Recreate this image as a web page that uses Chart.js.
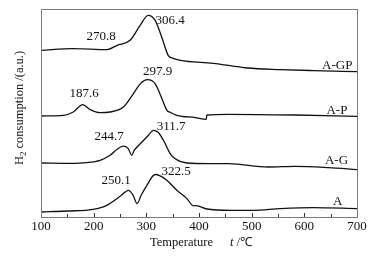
<!DOCTYPE html>
<html>
<head>
<meta charset="utf-8">
<script src="https://cdn.jsdelivr.net/npm/chart.js@4/dist/chart.umd.min.js"></script>
<style>
html,body{margin:0;padding:0;background:#fff;}
#wrap{position:relative;width:373px;height:256px;}
</style>
</head>
<body>
<div id="wrap"><canvas id="c" width="373" height="256"></canvas></div>
<script>
// ---- data (temperature in °C, H2 consumption in a.u.) ----
const tempGP = [100,160.8,225.5,244.5,269.2,288.2,303.4,316.7,330,341.4,351,364.3,427,491.6,554.4,617,700];
const valGP  = [166.7,168.4,167.4,171.7,176.7,191.7,201.7,196.7,178.7,161.7,158.7,156.7,153.7,149,147.4,146.4,145.4];

const tempP = [100,142.4,161.4,179.3,193.2,212.2,231.2,256.5,275.6,288.8,302.1,316.7,329.5,339,345.2,358,392.8,413.7,415,455.5,582.9,700];
const valP  = [101,101.7,105,112.4,107.4,104.4,105,110,123.4,133.4,137.4,133.4,118.4,106.7,104.7,101.7,99.4,97.7,102,102.7,102,100.7];

const tempG = [100,155,186.9,212.2,231.2,244.5,255.9,265.4,272.4,276.8,282.5,301,313.9,322.4,332.5,345.2,354.8,377,417.5,455.5,531.6,582.9,645.6,700];
const valG  = [54,53.7,54.4,56.7,61.7,67.7,70.9,68.7,61.7,66.7,70,80,86.7,84.7,76.7,63.4,58.2,54,53.4,53.4,50,50.7,49.4,47.4];

const tempA = [100,148.9,198.9,224.9,250.2,266.3,274.9,282.5,290.1,301,316.7,326.2,339,358,377,389.5,394.7,415,459.3,503,554.4,617,700];
const valA  = [5,6,7.7,11.7,20.7,26.7,21.7,13.4,21.7,31.7,42.5,41.2,36.7,26.7,18.4,11.2,11.4,8,6.7,6.7,8.4,9.4,8.4];

const seriesNames = ["A-GP","A-P","A-G","A"];
const seriesLabelX = [691.3,681.7,683,672.2];
const seriesLabelY = [151.7,106.7,56,15];

const peakTexts = ["270.8","306.4","187.6","297.9","244.7","311.7","250.1","322.5"];
const peakTextX = [214,345.2,181.7,321.5,229.3,347.1,242.6,356.7];
const peakTextY = [180,196.7,123.4,145.7,80,90.7,36.7,45];

const xTicks = [100,200,300,400,500,600,700];

function pts(xs, ys){ return xs.map((x,i)=>({x:x,y:ys[i]})); }

const SERIF = "'Liberation Serif','Times New Roman',serif";

const decor = {
  id:'decor',
  afterDatasetsDraw(chart){
    const ctx = chart.ctx, a = chart.chartArea;
    const xs = chart.scales.x, ys = chart.scales.y;
    ctx.save();
    // frame
    ctx.strokeStyle = '#7a7a7a';
    ctx.lineWidth = 1;
    ctx.strokeRect(Math.round(a.left)+0.5, Math.round(a.top)+0.5, Math.round(a.right-a.left), Math.round(a.bottom-a.top));
    // inward ticks on bottom axis
    ctx.strokeStyle = '#333';
    for (let v=150; v<700; v+=50){
      const px = Math.round(xs.getPixelForValue(v))+0.5;
      const len = (v%100===0)?4:3;
      ctx.beginPath(); ctx.moveTo(px, a.bottom); ctx.lineTo(px, a.bottom-len); ctx.stroke();
    }
    // peak labels
    ctx.fillStyle = '#111';
    ctx.font = "13px " + SERIF;
    ctx.textAlign = 'center'; ctx.textBaseline = 'middle';
    peakTexts.forEach((t,i)=>{
      ctx.fillText(t, xs.getPixelForValue(peakTextX[i]), ys.getPixelForValue(peakTextY[i]));
    });
    // series labels
    ctx.textAlign = 'right';
    seriesNames.forEach((t,i)=>{
      ctx.fillText(t, xs.getPixelForValue(seriesLabelX[i]), ys.getPixelForValue(seriesLabelY[i]));
    });
    // x title
    ctx.textAlign = 'left'; ctx.textBaseline = 'middle';
    ctx.font = "12.5px " + SERIF;
    ctx.fillText("Temperature", 150, 243);
    ctx.font = "italic 12.5px " + SERIF;
    ctx.fillText("t", 230, 243);
    const tw = ctx.measureText("t").width;
    ctx.font = "12.5px " + SERIF;
    ctx.fillText(" /\u2103", 230+tw, 243);
    // y title (rotated)
    ctx.translate(20, 108);
    ctx.rotate(-Math.PI/2);
    ctx.textBaseline = 'middle';
    const f = "12.5px " + SERIF, fs = "9px " + SERIF;
    ctx.font = f; const wH = ctx.measureText("H").width;
    ctx.font = fs; const w2 = ctx.measureText("2").width;
    ctx.font = f; const wR = ctx.measureText(" consumption /(a.u.)").width;
    const total = wH + w2 + wR;
    let x0 = -total/2;
    ctx.textAlign = 'left';
    ctx.font = f; ctx.fillText("H", x0, 0); x0 += wH;
    ctx.font = fs; ctx.fillText("2", x0, 4); x0 += w2;
    ctx.font = f; ctx.fillText(" consumption /(a.u.)", x0, 0);
    ctx.restore();
  }
};

const ds = (xs, ys) => ({
  data: pts(xs, ys), borderColor:'#111', borderWidth:1.3, pointRadius:0,
  fill:false, cubicInterpolationMode:'monotone'
});

new Chart(document.getElementById('c'), {
  type:'line',
  data:{ datasets:[ ds(tempGP,valGP), ds(tempP,valP), ds(tempG,valG), ds(tempA,valA) ] },
  options:{
    responsive:false, animation:false, devicePixelRatio:1,
    layout:{ padding:{ left:41, top:9, right:16, bottom:0 } },
    plugins:{ legend:{display:false}, tooltip:{enabled:false} },
    scales:{
      x:{
        type:'linear', min:100, max:700,
        grid:{ display:false, drawTicks:false },
        border:{ display:false },
        afterFit(s){ s.height = 39; },
        afterBuildTicks(s){ s.ticks = xTicks.map(v=>({value:v})); },
        ticks:{ padding:2, color:'#111', font:{ family:SERIF, size:13 }, maxRotation:0, autoSkip:false }
      },
      y:{ display:false, min:0, max:208 }
    }
  },
  plugins:[decor]
});
</script>
</body>
</html>
